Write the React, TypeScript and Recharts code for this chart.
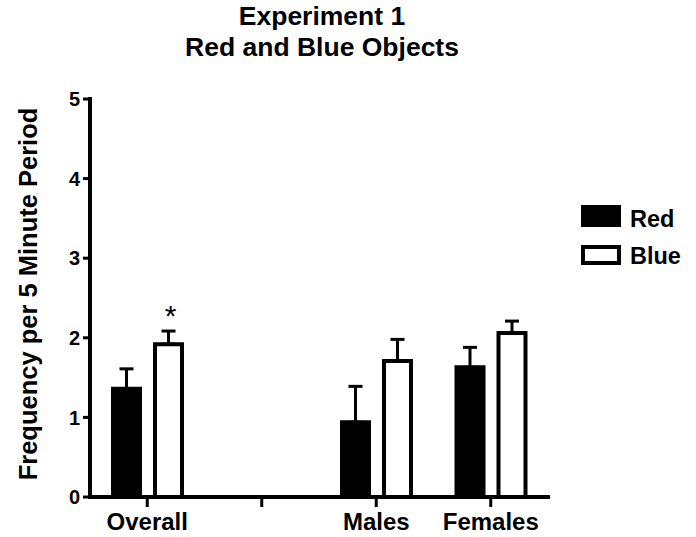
import { Bar, BarChart, ErrorBar, LabelList, Legend, XAxis, YAxis } from "recharts"

const categories = ["Overall", "", "Males", "Females"]
const redMeans = [1.36, null, 0.94, 1.63]
const redSem = [0.25, null, 0.45, 0.25]
const blueMeans = [1.92, null, 1.71, 2.06]
const blueSem = [0.165, null, 0.27, 0.15]
const significance = ["*", "", "", ""]
const seriesNames = ["Red", "Blue"]
const yTicks = [0, 1, 2, 3, 4, 5]

const data = categories.map((name, i) => ({
  name,
  Red: redMeans[i],
  redErr: redSem[i] == null ? null : [0, redSem[i]],
  Blue: blueMeans[i],
  blueErr: blueSem[i] == null ? null : [0, blueSem[i]],
  sig: significance[i],
}))

const font = "'Liberation Sans', Arial, sans-serif"

function Star(props: any) {
  const { x, y, width, value } = props
  if (!value) return null
  return (
    <text x={x + width / 2 + 2} y={y - 18} textAnchor="middle" fontSize={30} fontFamily={font} fill="#000">
      {value}
    </text>
  )
}

function YTitle() {
  return (
    <text
      x={37}
      y={294}
      transform="rotate(-90 37 294)"
      textAnchor="middle"
      fontSize={25.5}
      fontWeight="bold"
      fontFamily={font}
      fill="#000"
    >
      Frequency per 5 Minute Period
    </text>
  )
}

function LegendBox(props: any) {
  const items = [...(props.payload || [])].sort(
    (a: any, b: any) => seriesNames.indexOf(a.value) - seriesNames.indexOf(b.value)
  )
  return (
    <svg width={116} height={75}>
      {items.map((entry: any, i: number) => (
        <g key={entry.value}>
          <rect
            x={5}
            y={7 + i * 40}
            width={36}
            height={i === 0 ? 18 : 16}
            fill={entry.color}
            stroke="#000"
            strokeWidth={4}
          />
          <text x={52} y={27 + i * 37} fontSize={23.5} fontWeight="bold" fontFamily={font} fill="#000">
            {entry.value}
          </text>
        </g>
      ))}
    </svg>
  )
}

export default function App() {
  return (
    <div style={{ position: "absolute", left: 0, top: 0, width: 696, height: 537, background: "#fff" }}>
      <BarChart
        width={696}
        height={537}
        data={data}
        margin={{ top: 99, right: 148, bottom: 0, left: 0 }}
        barSize={27}
        barGap={15}
      >
        <text textAnchor="middle" fontSize={26.5} fontWeight="bold" fontFamily={font} fill="#000">
          <tspan x={322} y={25}>Experiment 1</tspan>
          <tspan x={322} y={56}>Red and Blue Objects</tspan>
        </text>
        <XAxis
          dataKey="name"
          height={40}
          axisLine={{ stroke: "#000", strokeWidth: 4, strokeLinecap: "square" }}
          tickLine={{ stroke: "#000", strokeWidth: 3 }}
          tickSize={10}
          tickMargin={6}
          tick={{ fill: "#000", fontSize: 24, fontWeight: "bold", fontFamily: font }}
        />
        <YAxis
          width={90}
          domain={[0, 5]}
          ticks={yTicks}
          axisLine={{ stroke: "#000", strokeWidth: 4, strokeLinecap: "square" }}
          tickLine={{ stroke: "#000", strokeWidth: 3 }}
          tickSize={7}
          tickMargin={3}
          tick={{ fill: "#000", fontSize: 20, fontWeight: "bold", fontFamily: font }}
          label={<YTitle />}
        />
        <Legend
          layout="vertical"
          align="center"
          verticalAlign="middle"
          wrapperStyle={{ left: 578, top: 200, width: 116 }}
          content={<LegendBox />}
        />
        <Bar dataKey="Red" fill="#000" stroke="#000" strokeWidth={4} isAnimationActive={false}>
          <ErrorBar dataKey="redErr" direction="y" width={7} stroke="#000" strokeWidth={3} />
        </Bar>
        <Bar dataKey="Blue" fill="#fff" stroke="#000" strokeWidth={4} isAnimationActive={false}>
          <ErrorBar dataKey="blueErr" direction="y" width={7} stroke="#000" strokeWidth={3} />
          <LabelList dataKey="sig" content={<Star />} />
        </Bar>
      </BarChart>
    </div>
  )
}
